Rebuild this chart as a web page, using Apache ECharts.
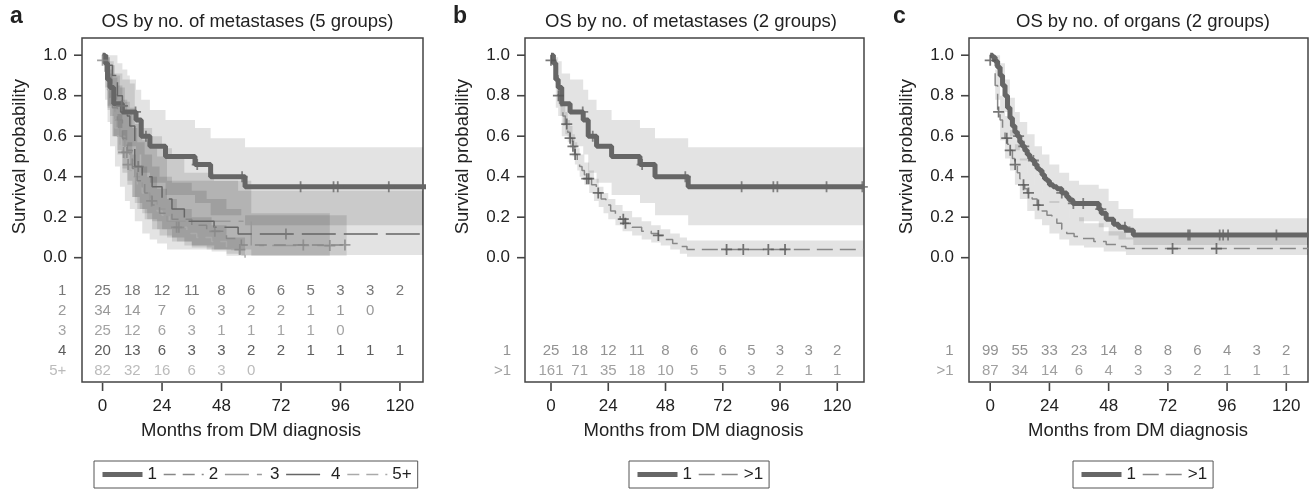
<!DOCTYPE html>
<html>
<head>
<meta charset="utf-8">
<title>OS by number of metastases / organs</title>
<script src="https://cdn.jsdelivr.net/npm/echarts@6/dist/echarts.min.js"></script>
<style>
  html, body { margin: 0; padding: 0; background: #fff; }
  #chart { width: 1314px; height: 490px; }
</style>
</head>
<body>
<div id="chart"></div>
<script>
// ---- axis ticks ----
const xTicks = [0, 24, 48, 72, 96, 120];
const yTicks = [0, 0.2, 0.4, 0.6, 0.8, 1.0];
const riskTimes = [0, 12, 24, 36, 48, 60, 72, 84, 96, 108, 120];

// ---- numbers at risk ----
const riskA1 = [25, 18, 12, 11, 8, 6, 6, 5, 3, 3, 2];
const riskA2 = [34, 14, 7, 6, 3, 2, 2, 1, 1, 0];
const riskA3 = [25, 12, 6, 3, 1, 1, 1, 1, 0];
const riskA4 = [20, 13, 6, 3, 3, 2, 2, 1, 1, 1, 1];
const riskA5 = [82, 32, 16, 6, 3, 0];
const riskB1 = [25, 18, 12, 11, 8, 6, 6, 5, 3, 3, 2];
const riskB2 = [161, 71, 35, 18, 10, 5, 5, 3, 2, 1, 1];
const riskC1 = [99, 55, 33, 23, 14, 8, 8, 6, 4, 3, 2];
const riskC2 = [87, 34, 14, 6, 4, 3, 3, 2, 1, 1, 1];

// ---- 1 metastasis (panels a and b) ----
const one_t  = [0, 1, 2, 3, 4.5, 8, 13.5, 15.6, 19.1, 25.4, 37.3, 43.6, 57.5, 131];
const one_s  = [1, 0.96, 0.88, 0.84, 0.76, 0.72, 0.68, 0.60, 0.55, 0.50, 0.46, 0.40, 0.35, 0.35];
const one_lo = [1, 0.88, 0.74, 0.70, 0.60, 0.55, 0.51, 0.42, 0.37, 0.31, 0.27, 0.21, 0.16, 0.16];
const one_hi = [1, 1, 0.99, 0.97, 0.91, 0.88, 0.83, 0.78, 0.73, 0.68, 0.64, 0.59, 0.545, 0.545];
const one_ct = [13.3, 17.5, 38.2, 56.3, 79.9, 93.2, 94.9, 115.5, 130.5];
const one_cs = [0.72, 0.60, 0.46, 0.40, 0.35, 0.35, 0.35, 0.35, 0.35];

// ---- panel a, groups 2..5+ ----
const a2_t  = [0, 1, 2, 3, 4, 6, 8, 10, 12, 14, 17, 20, 23, 28, 36, 42, 50, 56, 98.5];
const a2_s  = [1, .94, .85, .79, .74, .68, .59, .53, .44, .38, .32, .26, .22, .19, .16, .13, .095, .063, .063];
const a2_lo = [1, .84, .73, .66, .60, .53, .44, .38, .30, .24, .19, .14, .11, .08, .06, .04, .02, .01, .01];
const a2_hi = [1, 1, .97, .93, .89, .85, .78, .72, .64, .57, .51, .45, .40, .37, .33, .29, .24, .21, .21];
const a2_ct = [45.3, 81.0, 97.8];
const a2_cs = [.13, .063, .063];

const a3_t  = [0, 1, 2, 3, 5, 7, 9, 11, 13, 16, 19, 22, 26, 60, 91.7];
const a3_s  = [1, .92, .84, .76, .68, .60, .52, .48, .40, .32, .28, .24, .18, .06, .06];
const a3_lo = [1, .78, .67, .55, .45, .35, .28, .24, .18, .12, .09, .07, .04, .01, .01];
const a3_hi = [1, 1, .99, .95, .90, .84, .77, .74, .66, .58, .54, .50, .38, .22, .22];
const a3_ct = [9.8, 19.8, 91.7];
const a3_cs = [.52, .28, .06];

const a4_t  = [0, 2, 4, 6, 8, 10, 11, 13, 16, 20, 24, 28, 33, 45, 54.7, 130];
const a4_s  = [1, .95, .90, .80, .75, .70, .65, .45, .40, .35, .29, .24, .18, .15, .117, .117];
const a4_lo = [1, .86, .78, .64, .58, .52, .46, .27, .22, .18, .14, .10, .06, .04, .013, .013];
const a4_hi = [1, 1, 1, .96, .93, .90, .86, .69, .64, .60, .54, .49, .42, .38, .33, .33];
const a4_ct = [7.7, 14.4, 74.0];
const a4_cs = [.75, .45, .117];

const a5_t  = [0, 1, 2, 3, 4, 5, 6, 7, 8, 9, 10, 11, 12, 14, 16, 18, 20, 22, 24, 27, 30, 34, 38, 44, 50, 57.5];
const a5_s  = [1, .93, .83, .76, .70, .64, .60, .56, .52, .49, .46, .43, .40, .36, .32, .29, .26, .23, .21, .18, .15, .12, .10, .08, .04, 0];
const a5_bt = [0, 2, 4, 6, 8, 10, 12, 15, 18, 22, 26, 30, 36, 44, 50, 57.5];
const a5_lo = [1, .75, .60, .51, .42, .36, .30, .24, .19, .14, .10, .08, .05, .03, .01, .01];
const a5_hi = [1, .91, .81, .71, .63, .57, .51, .45, .40, .34, .29, .24, .20, .16, .10, .10];
const a5_ct = [0, 8.5, 10.3, 29.9, 30.8, 55.4];
const a5_cs = [.975, .52, .46, .15, .15, .04];

// ---- panel b, >1 metastasis ----
const bm_t  = [0, 1, 2, 3, 4, 5, 6, 7, 8, 9, 10, 11, 12, 13, 14, 15, 17, 19, 21, 23, 25, 27, 29, 31, 34, 38, 42, 45, 48, 51, 54, 57, 131];
const bm_s  = [1, .97, .90, .80, .75, .70, .66, .62, .59, .55, .51, .48, .45, .43, .41, .39, .36, .32, .29, .26, .23, .21, .19, .17, .15, .13, .12, .11, .09, .07, .055, .041, .041];
const bm_bt = [0, 1, 2, 3, 4, 5, 6, 7, 8, 9, 10, 11, 12, 14, 16, 18, 20, 22, 24, 27, 30, 34, 38, 42, 46, 50, 54, 57, 131];
const bm_lo = [1, .94, .86, .76, .70, .65, .61, .57, .54, .50, .46, .43, .40, .36, .32, .28, .25, .22, .19, .16, .13, .11, .09, .075, .06, .04, .02, .004, .004];
const bm_hi = [1, 1, .94, .86, .81, .76, .72, .68, .65, .61, .57, .54, .51, .47, .43, .39, .35, .32, .29, .26, .23, .20, .18, .16, .14, .12, .10, .085, .085];
const bm_ct = [0, 3.1, 6.6, 8.0, 9.2, 10.1, 15.0, 15.8, 19.8, 30.3, 31.2, 45.0, 73.6, 80.6, 91.1, 98.1];
const bm_cs = [.975, .80, .66, .59, .55, .51, .39, .39, .32, .19, .17, .11, .041, .041, .041, .041];

// ---- panel c, 1 organ ----
const c1_t  = [0, 1, 2, 3, 4, 5, 6, 7, 8, 9, 10, 11, 12, 13, 14, 15, 16, 17, 18, 19, 20, 21, 22, 23, 24, 25.5, 27, 29, 31, 32, 33.5, 44, 45, 47, 50, 52, 55, 58, 129];
const c1_s  = [1, .99, .97, .94, .90, .85, .80, .74, .69, .65, .62, .60, .57, .55, .53, .51, .49, .48, .46, .44, .43, .41, .39, .38, .36, .35, .34, .32, .30, .285, .268, .24, .22, .19, .165, .15, .135, .112, .112];
const c1_bt = [0, 2, 4, 6, 8, 10, 12, 15, 18, 21, 24, 28, 32, 36, 44, 48, 52, 58, 129];
const c1_lo = [1, .94, .85, .72, .60, .53, .48, .42, .36, .32, .27, .24, .20, .18, .15, .11, .09, .063, .063];
const c1_hi = [1, 1, .96, .88, .79, .72, .67, .61, .55, .51, .46, .42, .38, .36, .34, .28, .24, .195, .195];
const c1_ct = [11.5, 13.6, 17.5, 29.0, 33.7, 37.7, 44.8, 54.6, 80.2, 80.9, 93.0, 94.4, 96.4, 116.0];
const c1_cs = [.60, .55, .48, .32, .268, .268, .24, .15, .112, .112, .112, .112, .112, .112];

// ---- panel c, >1 organ ----
const c2_t  = [0, 1, 2, 3, 4, 5, 6, 7, 8, 9, 10, 11, 12, 13, 14, 15, 17, 19, 21, 23, 25, 27, 29, 31, 34, 37, 42, 47, 51, 55, 129];
const c2_s  = [1, .97, .85, .72, .68, .63, .59, .56, .53, .49, .46, .42, .39, .36, .34, .32, .29, .26, .23, .21, .20, .17, .14, .12, .105, .095, .08, .065, .055, .045, .045];
const c2_bt = [0, 2, 4, 6, 8, 10, 12, 15, 18, 21, 24, 28, 32, 38, 46, 55, 129];
const c2_lo = [1, .78, .58, .49, .43, .36, .29, .23, .19, .16, .12, .09, .06, .05, .03, .013, .013];
const c2_hi = [1, .93, .80, .70, .63, .56, .49, .42, .36, .32, .28, .24, .20, .17, .13, .10, .10];
const c2_ct = [0, 3.4, 6.7, 8.1, 10.1, 13.5, 15.5, 19.5, 73.9, 91.7];
const c2_cs = [.975, .72, .59, .53, .46, .36, .32, .26, .045, .045];

// ---------------------------------------------------------------
const FONT = '"Liberation Sans", Arial, Helvetica, sans-serif';
const BAND = 'rgba(0,0,0,0.11)';
const PLUS = 'path://M4.2,0H5.8V4.2H10V5.8H5.8V10H4.2V5.8H0V4.2H4.2Z';
const EDGE = '#444';
const Y_MIN = -0.614, Y_MAX = 1.085;

const panels = [
  { left: 82,  width: 341, xMin: -8.3,  xMax: 129.3, rowLabelX: -14.4 },
  { left: 525, width: 339, xMin: -10.9, xMax: 131.2, rowLabelX: -16.5 },
  { left: 969, width: 339, xMin: -8.6,  xMax: 128.8, rowLabelX: -14.6 }
];
const rowsA = [-0.162, -0.261, -0.36, -0.462, -0.561];
const rowsBC = [-0.46, -0.559];

function pairs(t, s) {
  return t.map((v, i) => [v, s[i]]);
}

function curve(name, p, t, s, color, width, dash) {
  return {
    type: 'line', name: name, xAxisIndex: p, yAxisIndex: p,
    step: 'end', symbol: 'none', z: 3, silent: true,
    data: pairs(t, s),
    lineStyle: { color: color, width: width, type: dash || 'solid' },
    itemStyle: { color: color }
  };
}

function band(p, t, lo, hi) {
  const rows = t.map((v, i) => [v, lo[i], hi[i]]);
  return {
    type: 'custom', xAxisIndex: p, yAxisIndex: p, z: 1, silent: true, clip: true,
    data: rows,
    renderItem: function (params, api) {
      if (params.dataIndexInside !== 0) return;
      const top = [], bottom = [];
      for (let i = 0; i < rows.length - 1; i++) {
        top.push(api.coord([rows[i][0], rows[i][2]]), api.coord([rows[i + 1][0], rows[i][2]]));
        bottom.push(api.coord([rows[i][0], rows[i][1]]), api.coord([rows[i + 1][0], rows[i][1]]));
      }
      return {
        type: 'polygon',
        shape: { points: top.concat(bottom.reverse()) },
        style: { fill: BAND }
      };
    }
  };
}

function censor(p, t, s, color) {
  return {
    type: 'scatter', xAxisIndex: p, yAxisIndex: p, z: 4, silent: true,
    symbol: PLUS, symbolSize: 11,
    data: pairs(t, s),
    itemStyle: { color: color }
  };
}

function riskRow(p, counts, rowY, color, rowLabel) {
  const txt = { show: true, color: color, fontSize: 15, fontFamily: FONT };
  return [{
    type: 'scatter', xAxisIndex: p, yAxisIndex: p, z: 5, silent: true,
    symbolSize: 1, itemStyle: { color: 'rgba(0,0,0,0)' },
    data: counts.map((c, i) => [riskTimes[i], rowY, c]),
    label: Object.assign({ position: 'inside', formatter: (q) => String(q.value[2]) }, txt)
  }, {
    type: 'scatter', xAxisIndex: p, yAxisIndex: p, z: 5, silent: true, clip: false,
    symbolSize: 1, itemStyle: { color: 'rgba(0,0,0,0)' },
    data: [[panels[p].rowLabelX, rowY]],
    label: Object.assign({ position: 'left', distance: 0, formatter: rowLabel }, txt)
  }];
}

const series = [
  // panel a
  band(0, one_t, one_lo, one_hi),
  band(0, a2_t, a2_lo, a2_hi),
  band(0, a3_t, a3_lo, a3_hi),
  band(0, a4_t, a4_lo, a4_hi),
  band(0, a5_bt, a5_lo, a5_hi),
  curve('5+', 0, a5_t, a5_s, '#aaa', 1.5, [12, 7]),
  curve('3', 0, a3_t, a3_s, '#999', 1.5, [24, 8, 5, 8]),
  curve('2', 0, a2_t, a2_s, '#888', 1.5, [12, 7]),
  curve('4', 0, a4_t, a4_s, '#666', 1.5, [34, 8]),
  curve('1', 0, one_t, one_s, '#666', 5),
  censor(0, a5_ct, a5_cs, '#888'),
  censor(0, a3_ct, a3_cs, '#888'),
  censor(0, a2_ct, a2_cs, '#888'),
  censor(0, a4_ct, a4_cs, '#777'),
  censor(0, one_ct, one_cs, '#666'),
  ...riskRow(0, riskA1, rowsA[0], '#555', '1'),
  ...riskRow(0, riskA2, rowsA[1], '#808080', '2'),
  ...riskRow(0, riskA3, rowsA[2], '#8c8c8c', '3'),
  ...riskRow(0, riskA4, rowsA[3], '#333', '4'),
  ...riskRow(0, riskA5, rowsA[4], '#aaa', '5+'),
  // panel b
  band(1, one_t, one_lo, one_hi),
  band(1, bm_bt, bm_lo, bm_hi),
  curve('>1', 1, bm_t, bm_s, '#888', 1.5, [16, 7]),
  curve('1', 1, one_t, one_s, '#666', 5),
  censor(1, bm_ct, bm_cs, '#555'),
  censor(1, one_ct, one_cs, '#666'),
  ...riskRow(1, riskB1, rowsBC[0], '#777', '1'),
  ...riskRow(1, riskB2, rowsBC[1], '#888', '>1'),
  // panel c
  band(2, c1_bt, c1_lo, c1_hi),
  band(2, c2_bt, c2_lo, c2_hi),
  curve('>1', 2, c2_t, c2_s, '#888', 1.5, [16, 7]),
  curve('1', 2, c1_t, c1_s, '#666', 5),
  censor(2, c2_ct, c2_cs, '#555'),
  censor(2, c1_ct, c1_cs, '#666'),
  ...riskRow(2, riskC1, rowsBC[0], '#777', '1'),
  ...riskRow(2, riskC2, rowsBC[1], '#888', '>1')
];

const labels = [
  { text: 'a', x: 10, y: 17, size: 23, bold: true, align: 'left' },
  { text: 'b', x: 453, y: 17, size: 23, bold: true, align: 'left' },
  { text: 'c', x: 893, y: 17, size: 23, bold: true, align: 'left' },
  { text: 'OS by no. of metastases (5 groups)', x: 247.5, y: 21.5, size: 18.5 },
  { text: 'OS by no. of metastases (2 groups)', x: 691, y: 21.5, size: 18.5 },
  { text: 'OS by no. of organs (2 groups)', x: 1143, y: 21.5, size: 18.5 },
  { text: 'Months from DM diagnosis', x: 251, y: 431, size: 18.5 },
  { text: 'Months from DM diagnosis', x: 693.5, y: 431, size: 18.5 },
  { text: 'Months from DM diagnosis', x: 1138, y: 431, size: 18.5 },
  { text: 'Survival probability', x: 20, y: 156.7, size: 18.5, rot: Math.PI / 2 },
  { text: 'Survival probability', x: 463, y: 156.7, size: 18.5, rot: Math.PI / 2 },
  { text: 'Survival probability', x: 907, y: 156.7, size: 18.5, rot: Math.PI / 2 }
];

function legend(left, names) {
  return {
    left: left, top: 461, orient: 'horizontal',
    selectedMode: false,
    padding: [5, 6], itemGap: 6, itemWidth: 40, itemHeight: 14,
    borderColor: '#555', borderWidth: 1, borderRadius: 0,
    textStyle: { fontSize: 17, color: '#222', fontFamily: FONT },
    data: names.map((n) => ({
      name: n,
      itemStyle: { opacity: 0 },
      lineStyle: { width: n === '1' ? 5 : 1.5 }
    }))
  };
}

const chart = echarts.init(document.getElementById('chart'));
chart.setOption({
  animation: false,
  backgroundColor: '#fff',
  textStyle: { fontFamily: FONT },
  grid: panels.map((p) => ({
    left: p.left, top: 38, width: p.width, height: 344,
    show: true, borderColor: EDGE, borderWidth: 1.5
  })),
  xAxis: panels.map((p, i) => ({
    type: 'value', gridIndex: i, min: p.xMin, max: p.xMax,
    axisLine: { show: false, onZero: false },
    axisTick: { show: false },
    axisLabel: { customValues: xTicks, fontSize: 17, color: '#222', margin: 16, fontFamily: FONT },
    splitLine: { show: false }
  })),
  yAxis: panels.map((p, i) => ({
    type: 'value', gridIndex: i, min: Y_MIN, max: Y_MAX,
    axisLine: { show: false, onZero: false },
    axisTick: { show: false },
    axisLabel: { customValues: yTicks, fontSize: 17, color: '#222', margin: 15, fontFamily: FONT,
                 formatter: (v) => v.toFixed(1) },
    splitLine: { show: false }
  })),
  legend: [
    legend(94, ['1', '2', '3', '4', '5+']),
    legend(629, ['1', '>1']),
    legend(1073, ['1', '>1'])
  ],
  series: series
});

// text labels plus outward tick marks, placed through each grid's own scales
const graphics = labels.map((t) => ({
  type: 'text', x: t.x, y: t.y, rotation: t.rot || 0, silent: true,
  style: {
    text: t.text, fontSize: t.size, fontWeight: t.bold ? 'bold' : 'normal',
    fontFamily: FONT, fill: '#222', align: t.align || 'center', verticalAlign: 'middle'
  }
}));
panels.forEach((p, i) => {
  xTicks.forEach((v) => {
    const pt = chart.convertToPixel({ gridIndex: i }, [v, Y_MIN]);
    if (!pt) return;
    graphics.push({ type: 'line', silent: true, z: 10,
      shape: { x1: pt[0], y1: pt[1] + 1, x2: pt[0], y2: pt[1] + 9 },
      style: { stroke: EDGE, lineWidth: 1.6 } });
  });
  yTicks.forEach((v) => {
    const pt = chart.convertToPixel({ gridIndex: i }, [p.xMin, v]);
    if (!pt) return;
    graphics.push({ type: 'line', silent: true, z: 10,
      shape: { x1: pt[0] - 8, y1: pt[1], x2: pt[0], y2: pt[1] },
      style: { stroke: EDGE, lineWidth: 1.6 } });
  });
});
chart.setOption({ graphic: graphics });
</script>
</body>
</html>
